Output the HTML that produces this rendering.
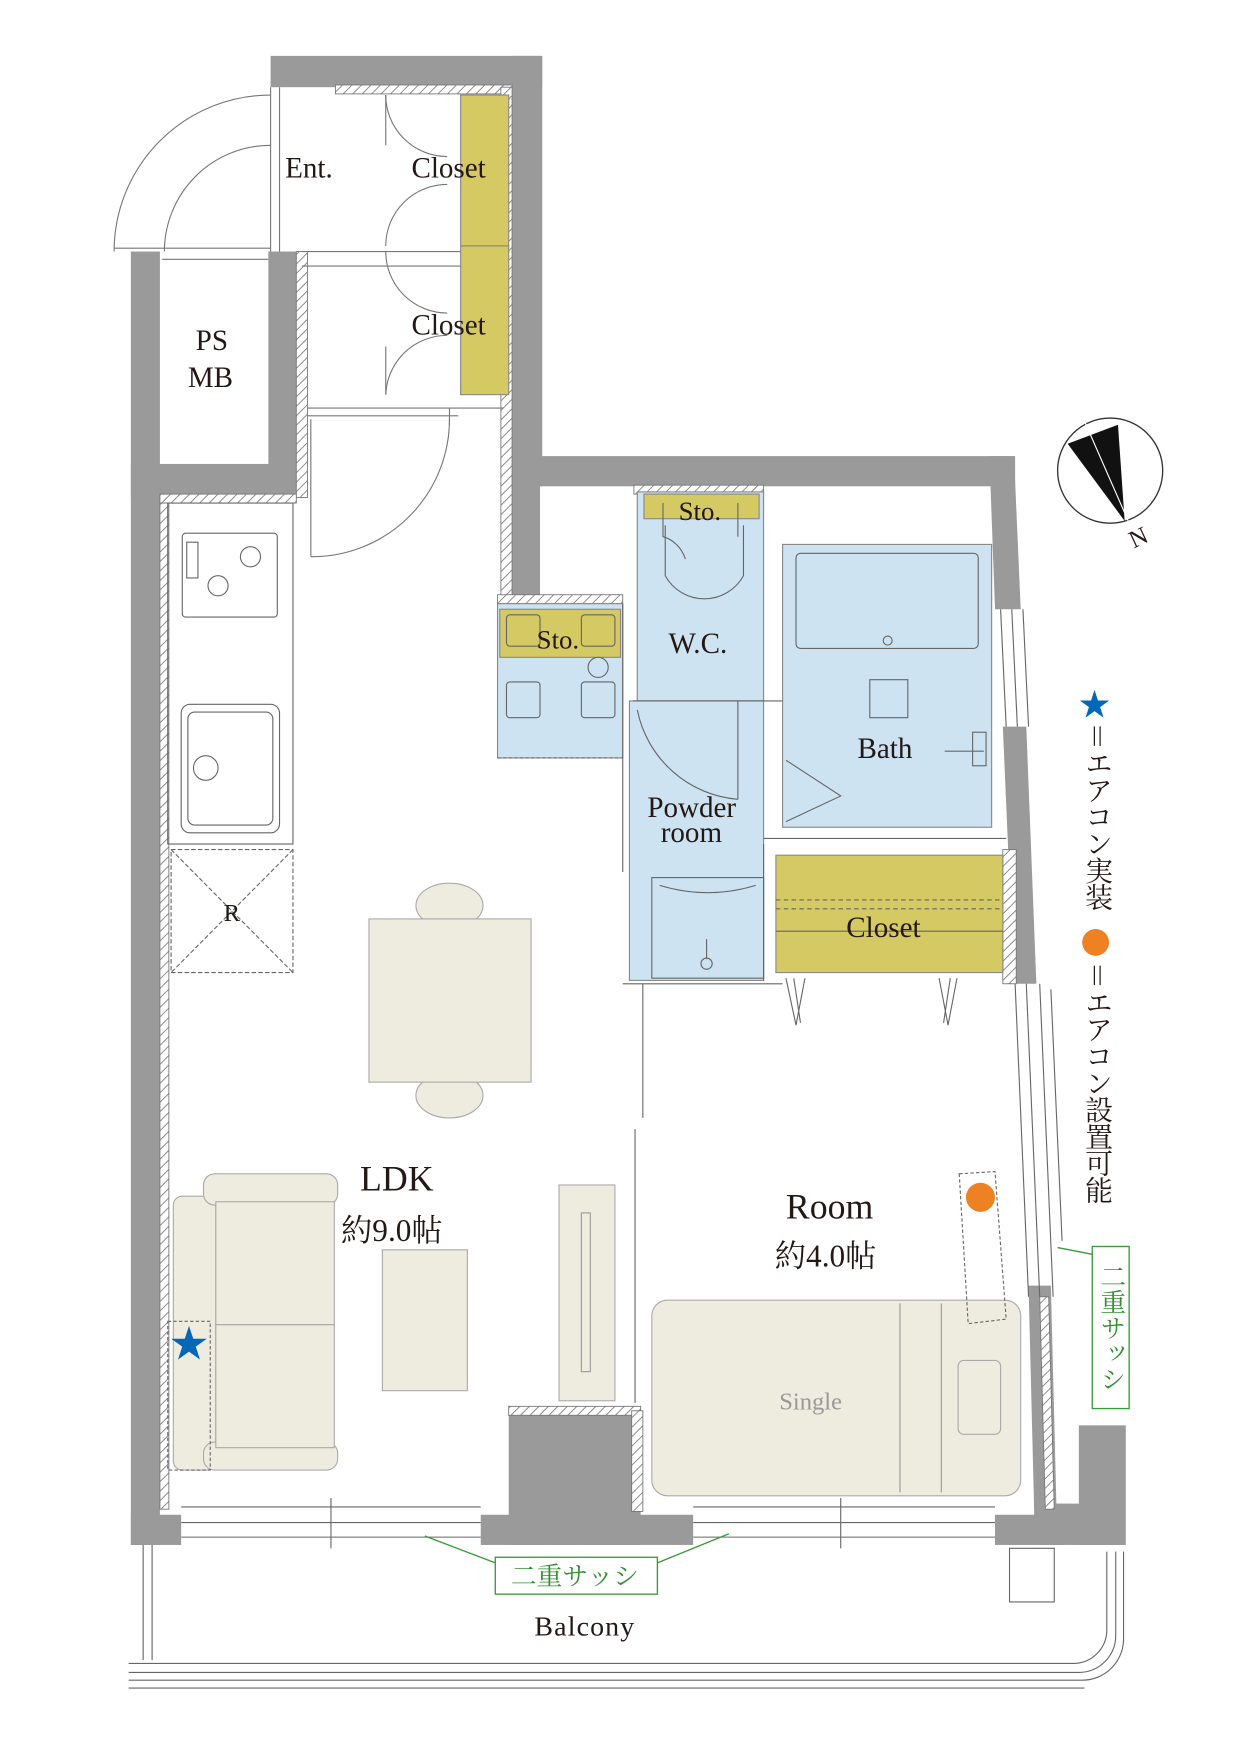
<!DOCTYPE html>
<html><head><meta charset="utf-8"><style>
html,body{margin:0;padding:0;background:#fff;width:1241px;height:1754px;overflow:hidden}
svg{display:block}
text{font-family:"Liberation Serif","Noto Serif CJK SC",serif;fill:#231815}
</style></head><body>
<svg width="1241" height="1754" viewBox="0 0 1110 1569" xmlns="http://www.w3.org/2000/svg">
<defs>
<pattern id="h" width="6" height="6" patternUnits="userSpaceOnUse" patternTransform="rotate(45)">
<rect width="6" height="6" fill="#fff"/><line x1="0" y1="0" x2="0" y2="6" stroke="#777" stroke-width="1.5"/></pattern>
</defs>
<g fill="#9a9a9a">
<rect x="242" y="50" width="243" height="28"/>
<rect x="458" y="50" width="27" height="385"/>
<rect x="458" y="408" width="450" height="27"/>
<rect x="458" y="408" width="25" height="125"/>
<polygon points="885,408 907,408 913,545 890,545"/>
<polygon points="897,650 918,650 927,880 907,880"/>
<polygon points="920,1150 940,1150 945,1350 925,1350"/>
<rect x="965" y="1275" width="42" height="107"/>
<rect x="925" y="1345" width="80" height="37"/>
<rect x="117" y="225" width="26" height="1157"/>
<rect x="117" y="415" width="153" height="30"/>
<rect x="240" y="225" width="30" height="220"/>
<rect x="117" y="1355" width="45" height="27"/>
<rect x="455" y="1260" width="118" height="122"/>
<rect x="430" y="1355" width="190" height="27"/>
<rect x="890" y="1355" width="60" height="27"/>
</g>
<g fill="url(#h)" stroke="#777" stroke-width="0.8">
<rect x="300" y="76" width="158" height="8"/>
<rect x="448" y="78" width="10" height="455"/>
<rect x="265" y="225" width="10" height="220"/>
<rect x="143" y="442" width="122" height="8"/>
<rect x="143" y="450" width="8" height="900"/>
<rect x="445" y="532" width="112" height="8"/>
<rect x="567" y="434" width="116" height="8"/>
<rect x="568" y="778" width="12" height="97"/>
<rect x="897" y="760" width="12" height="120"/>
<rect x="455" y="1258" width="118" height="8"/>
<rect x="565" y="1262" width="10" height="90"/>
<polygon points="930,1160 938,1160 943,1350 935,1350"/>
</g>
<g fill="#d5c964" stroke="#888" stroke-width="1">
<rect x="412" y="85" width="43" height="135"/>
<rect x="412" y="220" width="43" height="133"/>
</g>
<g fill="none" stroke="#777" stroke-width="1">
<line x1="250" y1="78" x2="250" y2="225"/><line x1="242" y1="78" x2="242" y2="225"/>
<line x1="270" y1="225" x2="412" y2="225"/><line x1="270" y1="238" x2="412" y2="238"/>
<line x1="275" y1="365" x2="450" y2="365"/><line x1="275" y1="372" x2="410" y2="372"/>
<path d="M345,85 A55,55 0 0 0 400,140 M345,220 A55,55 0 0 1 400,165 M345,225 A55,55 0 0 0 400,280 M345,353 A55,55 0 0 1 400,300"/>
<line x1="345" y1="85" x2="345" y2="130"/><line x1="345" y1="310" x2="345" y2="353"/>
<path d="M102,225 A140,140 0 0 1 242,85 M147,225 A95,95 0 0 1 242,130"/>
<line x1="102" y1="222" x2="242" y2="222"/><line x1="145" y1="232" x2="240" y2="232"/>
<path d="M278,498 A123,123 0 0 0 402,375"/><line x1="278" y1="375" x2="278" y2="498"/><line x1="402" y1="365" x2="402" y2="380"/>
</g>
<g fill="#cde3f1" stroke="#888" stroke-width="1">
<rect x="570" y="440" width="113" height="187"/>
<rect x="563" y="627" width="120" height="250"/>
<rect x="700" y="487" width="187" height="253"/>
<rect x="445" y="540" width="112" height="138"/>
</g>
<g fill="#d5c964" stroke="#888" stroke-width="1">
<rect x="576" y="442" width="103" height="22"/>
<rect x="447" y="545" width="108" height="43"/>
<rect x="694" y="765" width="203" height="105"/>
</g>
<g fill="none" stroke="#666" stroke-width="1">
<path d="M593,450 v30 a30,30 0 0 1 20,20 M660,450 v30 M595,470 v45 a40,40 0 0 0 70,0 v-45"/>
<rect x="712" y="495" width="163" height="85" rx="4"/><circle cx="794" cy="573" r="4"/>
<rect x="778" y="608" width="34" height="34"/>
<path d="M703,680 L752,712 L703,735"/>
<line x1="845" y1="672" x2="880" y2="672"/><rect x="870" y="655" width="12" height="30"/>
<path d="M570,635 A100,100 0 0 0 660,715"/><line x1="660" y1="627" x2="660" y2="715"/>
<line x1="566" y1="627" x2="683" y2="627"/><line x1="683" y1="627" x2="700" y2="627"/>
<line x1="683" y1="750" x2="900" y2="750"/><line x1="683" y1="755" x2="683" y2="877"/>
<rect x="583" y="785" width="100" height="90"/><path d="M590,792 Q633,805 676,792"/>
<circle cx="632" cy="862" r="5"/><line x1="632" y1="840" x2="632" y2="858"/>
<line x1="694" y1="805" x2="897" y2="805" stroke-dasharray="4,3"/>
<line x1="694" y1="813" x2="897" y2="813" stroke-dasharray="4,3"/>
<line x1="694" y1="833" x2="897" y2="833"/>
<path d="M703,875 L712,917 L720,875 M856,875 L848,917 L840,875 M710,875 L716,915 M850,875 L844,915"/>
<line x1="557" y1="880" x2="700" y2="880"/>
<line x1="575" y1="880" x2="575" y2="1000"/><line x1="568" y1="1010" x2="568" y2="1255"/>
<line x1="445" y1="678" x2="557" y2="678" stroke-dasharray="3,2"/>
<line x1="557" y1="540" x2="557" y2="780"/>
<rect x="453" y="550" width="30" height="28" rx="3"/><rect x="520" y="550" width="30" height="28" rx="3"/>
<rect x="453" y="610" width="30" height="32" rx="3"/><rect x="520" y="610" width="30" height="32" rx="3"/>
<circle cx="535" cy="597" r="9"/>
<rect x="150" y="450" width="112" height="305"/>
<rect x="163" y="477" width="85" height="75" rx="3"/>
<circle cx="224" cy="498" r="9"/><circle cx="195" cy="524" r="9"/><rect x="167" y="485" width="10" height="32"/>
<rect x="162" y="630" width="88" height="115" rx="8"/><rect x="168" y="637" width="76" height="101" rx="6"/>
<circle cx="184" cy="687" r="11"/>
<rect x="153" y="760" width="109" height="110" stroke-dasharray="4,2"/>
<path d="M153,760 L262,870 M262,760 L153,870" stroke-dasharray="4,2"/>
<line x1="162" y1="1348" x2="430" y2="1348"/><line x1="162" y1="1362" x2="430" y2="1362"/><line x1="162" y1="1375" x2="430" y2="1375"/>
<line x1="620" y1="1348" x2="890" y2="1348"/><line x1="620" y1="1362" x2="890" y2="1362"/><line x1="620" y1="1375" x2="890" y2="1375"/>
<line x1="296" y1="1340" x2="296" y2="1385"/><line x1="752" y1="1340" x2="752" y2="1385"/>
<line x1="908" y1="880" x2="920" y2="1160"/><line x1="918" y1="880" x2="930" y2="1160"/>
<line x1="930" y1="880" x2="942" y2="1160"/><line x1="940" y1="885" x2="950" y2="1110"/>
<line x1="895" y1="545" x2="900" y2="650"/><line x1="905" y1="545" x2="910" y2="650"/>
<line x1="915" y1="545" x2="920" y2="650"/>
<line x1="128" y1="1382" x2="128" y2="1485"/><line x1="136" y1="1382" x2="136" y2="1485"/>
<path d="M115,1488 H960 A30,30 0 0 0 990,1458 V1388 M115,1496 H965 A33,33 0 0 0 998,1463 V1388 M115,1503 H968 A37,37 0 0 0 1005,1466 V1388"/>
<line x1="115" y1="1510" x2="970" y2="1510"/>
<rect x="903" y="1385" width="40" height="48"/>
</g>
<g fill="#eeecdf" stroke="#aaa" stroke-width="1">
<ellipse cx="402" cy="810" rx="30" ry="20"/><ellipse cx="402" cy="980" rx="30" ry="20"/>
<rect x="330" y="822" width="145" height="146"/>
<rect x="155" y="1070" width="38" height="245" rx="8"/>
<rect x="182" y="1050" width="120" height="28" rx="10"/><rect x="182" y="1290" width="120" height="25" rx="10"/>
<rect x="193" y="1075" width="106" height="110"/><rect x="193" y="1185" width="106" height="110"/>
<rect x="342" y="1118" width="76" height="126"/>
<rect x="500" y="1060" width="50" height="193"/>
<rect x="583" y="1163" width="330" height="175" rx="14"/>
<rect x="857" y="1217" width="38" height="66" rx="5"/>
</g>
<g stroke="#999" fill="none"><line x1="805" y1="1166" x2="805" y2="1335"/><line x1="842" y1="1166" x2="842" y2="1335"/>
<rect x="520" y="1085" width="8" height="142"/>
<rect x="150" y="1182" width="38" height="133" stroke-dasharray="3,2" stroke="#666"/>
<polygon points="858,1050 890,1048 900,1180 866,1184" stroke-dasharray="3,2" stroke="#666"/></g>
<circle cx="877" cy="1071" r="13" fill="#ee8222"/>
<text x="152" y="1214" font-size="34" style="fill:#0068b7">★</text>
<g font-size="26">
<text x="255" y="159">Ent.</text>
<text x="368" y="159">Closet</text>
<text x="368" y="299">Closet</text>
<text x="175" y="313">PS</text><text x="168" y="346">MB</text>
<text x="607" y="465" font-size="24">Sto.</text>
<text x="480" y="580" font-size="24">Sto.</text>
<text x="598" y="584">W.C.</text>
<text x="767" y="678">Bath</text>
<text x="579" y="731">Powder</text><text x="591" y="753">room</text>
<text x="757" y="838">Closet</text>
<text x="200" y="824" font-size="22">R</text>
<text x="322" y="1065" font-size="32">LDK</text>
<text x="305" y="1110" font-size="28">約9.0帖</text>
<text x="703" y="1090" font-size="32">Room</text>
<text x="693" y="1133" font-size="28">約4.0帖</text>
<text x="697" y="1261" font-size="22" style="fill:#999">Single</text>
<text x="478" y="1463" font-size="25" letter-spacing="1">Balcony</text>
</g>
<g stroke="#3a9a3a" fill="none" stroke-width="1.2">
<rect x="443" y="1393" width="145" height="33" fill="#fff"/>
<path d="M443,1398 L380,1374 M588,1398 L652,1372"/>
<rect x="977" y="1115" width="33" height="145" fill="#fff"/>
<path d="M977,1122 L946,1116"/>
</g>
<text x="457" y="1418" font-size="23" style="fill:#2f8f2f" font-family="Noto Serif CJK SC">二重サッシ</text>
<text font-size="23" style="fill:#2f8f2f;writing-mode:vertical-rl" x="994" y="1130">二重サッシ</text>
<text x="965" y="640" font-size="28" style="fill:#0068b7">★</text>
<text x="980" y="646" font-size="25" style="writing-mode:vertical-rl" letter-spacing="-1">＝エアコン実装</text>
<circle cx="980" cy="843" r="12" fill="#ee8222"/>
<text x="980" y="860" font-size="25" style="writing-mode:vertical-rl" letter-spacing="-1">＝エアコン設置可能</text>
<circle cx="993" cy="421" r="47" fill="none" stroke="#333" stroke-width="1.2"/>
<polygon points="955,397 1000,380 1006,466" fill="#111"/>
<line x1="968" y1="372" x2="1010" y2="468" stroke="#fff" stroke-width="1"/>
<text x="1010" y="488" font-size="22" transform="rotate(-25 1018 480)">N</text>
</svg>
</body></html>
